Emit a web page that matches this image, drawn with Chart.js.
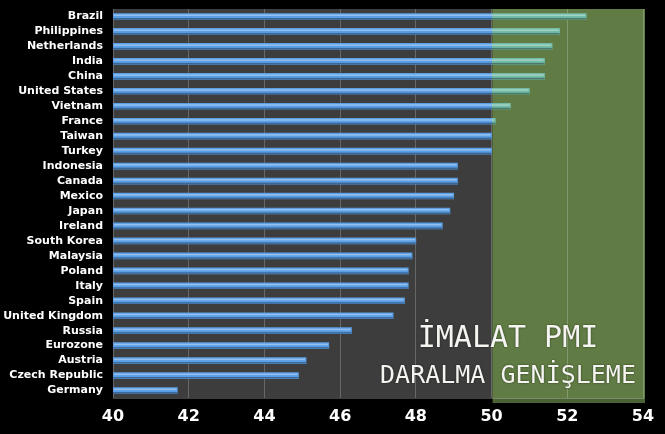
<!DOCTYPE html>
<html>
<head>
<meta charset="utf-8">
<script src="https://cdn.jsdelivr.net/npm/chart.js@4.4.1/dist/chart.umd.min.js"></script>
<style>
  html, body { margin: 0; padding: 0; background: #000; }
  #wrap { width: 665px; height: 434px; }
</style>
</head>
<body>
<div id="wrap"><canvas id="Chart" width="665" height="434"></canvas></div>
<script>
// country names, top to bottom
const countries = ['Brazil', 'Philippines', 'Netherlands', 'India', 'China', 'United States',
  'Vietnam', 'France', 'Taiwan', 'Turkey', 'Indonesia', 'Canada', 'Mexico', 'Japan',
  'Ireland', 'South Korea', 'Malaysia', 'Poland', 'Italy', 'Spain', 'United Kingdom',
  'Russia', 'Eurozone', 'Austria', 'Czech Republic', 'Germany'];

// manufacturing PMI
const pmi = [52.5, 51.8, 51.6, 51.4, 51.4, 51.0, 50.5, 50.1, 50.0, 50.0, 49.1, 49.1, 49.0,
  48.9, 48.7, 48.0, 47.9, 47.8, 47.8, 47.7, 47.4, 46.3, 45.7, 45.1, 44.9, 41.7];

const axisMin = 40;
const axisMax = 54;
const axisStep = 2;
const threshold = 50;

const title = 'İMALAT PMI';
const subtitle = 'DARALMA GENİŞLEME';

document.addEventListener('DOMContentLoaded', function () {
  const ctx = document.getElementById('Chart');

  // backgrounds: dark plot area + green expansion zone
  const backdrop = {
    id: 'backdrop',
    beforeDraw(chart) {
      const c = chart.ctx;
      const a = chart.chartArea;
      const x = chart.scales.x;
      const x50 = x.getPixelForValue(threshold);
      const xEnd = x.getPixelForValue(axisMax);
      c.save();
      c.fillStyle = '#000';
      c.fillRect(0, 0, chart.width, chart.height);
      c.fillStyle = '#3d3d3d';
      c.fillRect(a.left, a.top, a.right - a.left, a.bottom - a.top);
      // green zone with a darker bottom edge
      c.fillStyle = '#4b6334';
      c.fillRect(x50 + 1, a.top, xEnd - x50 + 1, a.bottom - a.top + 5);
      c.fillStyle = '#607b43';
      c.fillRect(x50 + 1, a.top, xEnd - x50 + 1, a.bottom - a.top);
      c.restore();
    },
    afterDatasetsDraw(chart) {
      // little 3D look on every bar
      const c = chart.ctx;
      const a = chart.chartArea;
      const meta = chart.getDatasetMeta(0);
      c.save();
      meta.data.forEach(bar => {
        const left = Math.max(a.left, Math.min(bar.base, bar.x));
        const right = Math.max(bar.base, bar.x);
        const w = right - left;
        const top = bar.y - bar.height / 2;
        c.fillStyle = 'rgba(255,255,255,0.35)';
        c.fillRect(left + 1, top + 1, w - 2, 1.5);
        c.fillStyle = 'rgba(0,0,0,0.35)';
        c.fillRect(left, top + bar.height - 1.5, w, 1.5);
      });
      c.restore();
    },
    afterDraw(chart) {
      const c = chart.ctx;
      const cx = 508;
      c.save();
      c.fillStyle = '#f4f4f0';
      c.textAlign = 'center';
      c.textBaseline = 'alphabetic';
      c.shadowColor = 'rgba(0,0,0,0.6)';
      c.shadowBlur = 2;
      c.font = '30px "DejaVu Sans Mono"';
      c.fillText(title, cx, 347);
      c.font = '25px "DejaVu Sans Mono"';
      c.fillText(subtitle, cx, 383);
      c.restore();
    }
  };

  function barColor(context) {
    const chart = context.chart;
    const a = chart.chartArea;
    if (!a) return '#5a9fe6';
    const x = chart.scales.x;
    const x0 = x.getPixelForValue(axisMin);
    const x1 = x.getPixelForValue(axisMax);
    const f = (x.getPixelForValue(threshold) - x0) / (x1 - x0);
    const g = chart.ctx.createLinearGradient(x0, 0, x1, 0);
    g.addColorStop(0, '#5a9fe6');
    g.addColorStop(f, '#5a9fe6');
    g.addColorStop(f, '#72bba6');
    g.addColorStop(1, '#72bba6');
    return g;
  }

  new Chart(ctx, {
    type: 'bar',
    data: {
      labels: countries,
      datasets: [{
        label: 'PMI',
        data: pmi,
        backgroundColor: barColor,
        borderWidth: 0,
        barThickness: 6
      }]
    },
    options: {
      indexAxis: 'y',
      responsive: false,
      animation: false,
      layout: { padding: { top: 9, right: 22, left: 0, bottom: 0 } },
      plugins: {
        legend: { display: false },
        tooltip: { enabled: false }
      },
      scales: {
        x: {
          min: axisMin,
          max: axisMax,
          ticks: {
            stepSize: axisStep,
            color: '#ffffff',
            padding: 9,
            font: { family: 'DejaVu Sans', size: 16, weight: 'bold' }
          },
          grid: {
            color: 'rgba(255,255,255,0.22)',
            drawTicks: false,
            lineWidth: 1
          },
          border: { display: true, color: 'rgba(255,255,255,0.25)' },
          afterFit(s) { s.height = 36; }
        },
        y: {
          ticks: {
            color: '#ffffff',
            padding: 10,
            autoSkip: false,
            font: { family: 'DejaVu Sans', size: 11, weight: 'bold' }
          },
          grid: { display: false, drawTicks: false },
          border: { display: false },
          afterFit(s) {
            s.width = 113;
            s.paddingTop = 0;
            s.paddingBottom = 0;
          }
        }
      }
    },
    plugins: [backdrop]
  });
});
</script>
</body>
</html>
